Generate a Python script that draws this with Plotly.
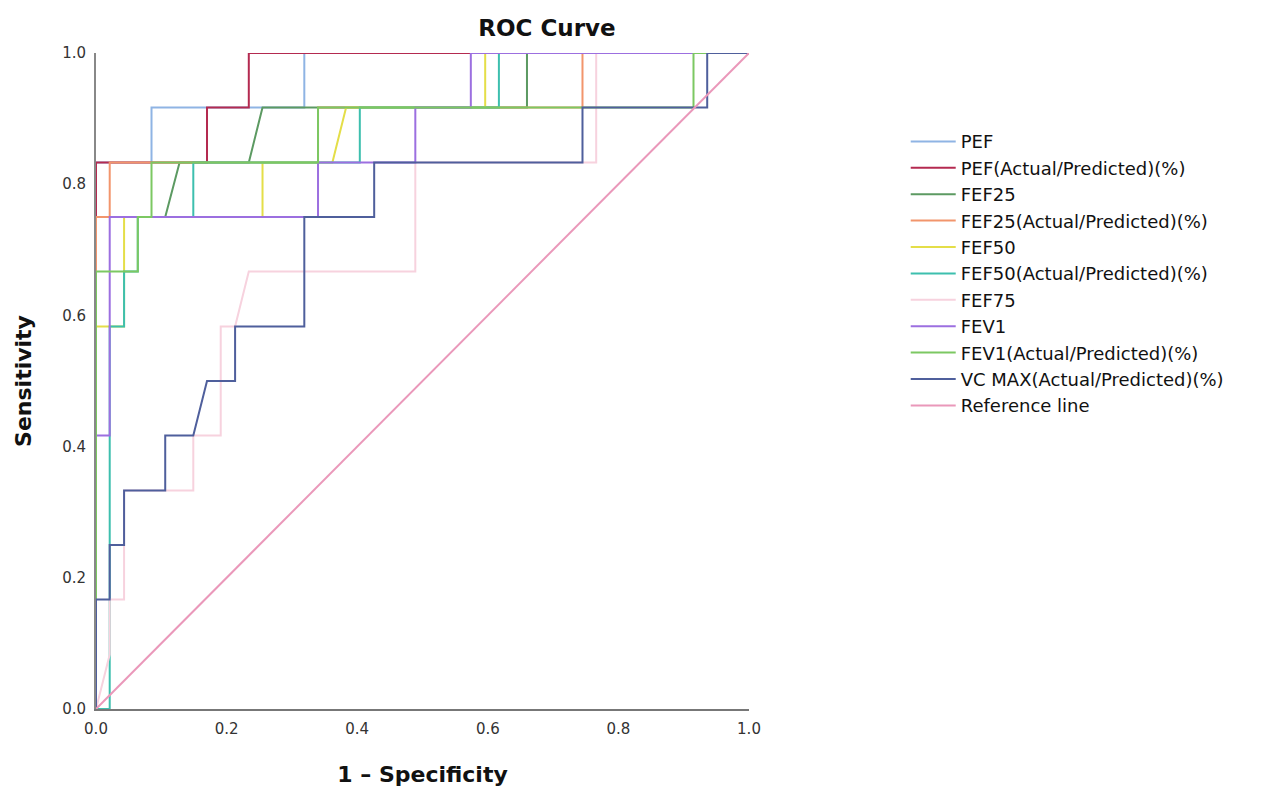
import plotly.graph_objects as go

# ROC step curves (1 - specificity, sensitivity)
pef_x = [0, 0, 0.085, 0.085, 0.319, 0.319, 1]
pef_y = [0, 0.833, 0.833, 0.917, 0.917, 1, 1]

pef_ap_x = [0, 0, 0.170, 0.170, 0.234, 0.234, 1]
pef_ap_y = [0, 0.833, 0.833, 0.917, 0.917, 1, 1]

fef25_x = [0, 0, 0.106, 0.128, 0.234, 0.255, 0.660, 0.660, 1]
fef25_y = [0, 0.75, 0.75, 0.833, 0.833, 0.917, 0.917, 1, 1]

fef25_ap_x = [0, 0, 0.021, 0.021, 0.340, 0.340, 0.745, 0.745, 1]
fef25_ap_y = [0, 0.75, 0.75, 0.833, 0.833, 0.917, 0.917, 1, 1]

fef50_x = [0, 0, 0.043, 0.043, 0.255, 0.255, 0.362, 0.383, 0.596, 0.596, 1]
fef50_y = [0, 0.583, 0.583, 0.75, 0.75, 0.833, 0.833, 0.917, 0.917, 1, 1]

fef50_ap_x = [0, 0.021, 0.021, 0.043, 0.043, 0.064, 0.064, 0.149, 0.149, 0.404, 0.404, 0.617, 0.617, 1]
fef50_ap_y = [0, 0, 0.583, 0.583, 0.667, 0.667, 0.75, 0.75, 0.833, 0.833, 0.917, 0.917, 1, 1]

fef75_x = [0, 0.021, 0.021, 0.043, 0.043, 0.149, 0.149, 0.191, 0.191, 0.213, 0.234, 0.489, 0.489, 0.766, 0.766, 1]
fef75_y = [0, 0.083, 0.167, 0.167, 0.333, 0.333, 0.417, 0.417, 0.583, 0.583, 0.667, 0.667, 0.833, 0.833, 1, 1]

fev1_x = [0, 0, 0.021, 0.021, 0.340, 0.340, 0.489, 0.489, 0.574, 0.574, 1]
fev1_y = [0, 0.417, 0.417, 0.75, 0.75, 0.833, 0.833, 0.917, 0.917, 1, 1]

fev1_ap_x = [0, 0, 0.064, 0.064, 0.085, 0.085, 0.340, 0.340, 0.915, 0.915, 1]
fev1_ap_y = [0, 0.667, 0.667, 0.75, 0.75, 0.833, 0.833, 0.917, 0.917, 1, 1]

vcmax_x = [0, 0, 0.021, 0.021, 0.043, 0.043, 0.106, 0.106, 0.149, 0.170, 0.213, 0.213,
           0.319, 0.319, 0.426, 0.426, 0.745, 0.745, 0.936, 0.936, 1]
vcmax_y = [0, 0.167, 0.167, 0.25, 0.25, 0.333, 0.333, 0.417, 0.417, 0.5, 0.5, 0.583,
           0.583, 0.75, 0.75, 0.833, 0.833, 0.917, 0.917, 1, 1]

ref_x = [0, 1]
ref_y = [0, 1]

tick_vals = [0, 0.2, 0.4, 0.6, 0.8, 1.0]
tick_text = ["0.0", "0.2", "0.4", "0.6", "0.8", "1.0"]

names = ["PEF", "PEF(Actual/Predicted)(%)", "FEF25", "FEF25(Actual/Predicted)(%)",
         "FEF50", "FEF50(Actual/Predicted)(%)", "FEF75", "FEV1",
         "FEV1(Actual/Predicted)(%)", "VC MAX(Actual/Predicted)(%)", "Reference line"]
xs = [pef_x, pef_ap_x, fef25_x, fef25_ap_x, fef50_x, fef50_ap_x, fef75_x, fev1_x,
      fev1_ap_x, vcmax_x, ref_x]
ys = [pef_y, pef_ap_y, fef25_y, fef25_ap_y, fef50_y, fef50_ap_y, fef75_y, fev1_y,
      fev1_ap_y, vcmax_y, ref_y]
colors = ["#8fb4e4", "#b42a50", "#5c9a62", "#f2956c", "#e4de48", "#3dbfae",
          "#f7d2de", "#9c6fe0", "#7cc862", "#4f5f9c", "#ea98ba"]

fig = go.Figure()
for n, x, y, c in zip(names, xs, ys, colors):
    fig.add_trace(go.Scatter(x=x, y=y, mode="lines", name=n,
                             line=dict(color=c, width=2)))

FONT = "DejaVu Sans"
fig.update_layout(
    width=1270, height=790,
    paper_bgcolor="white", plot_bgcolor="white",
    margin=dict(l=88, r=529, t=45, b=89),
    font=dict(family=FONT, color="#222"),
    title=dict(text="<b>ROC Curve</b>", x=539 / 1270, xanchor="center",
               y=1 - 20 / 790, yanchor="middle",
               font=dict(family=FONT, size=23, color="#111")),
    legend=dict(x=1.240, y=0.893, xanchor="left", yanchor="top",
                font=dict(family=FONT, size=18, color="#111"),
                bgcolor="rgba(0,0,0,0)", itemwidth=45),
    showlegend=True,
)
fig.update_xaxes(range=[0, 1], tickvals=tick_vals, ticktext=tick_text,
                 showgrid=False, zeroline=False, showline=True, linecolor="#777",
                 linewidth=2, ticks="outside", ticklen=5, tickcolor="rgba(0,0,0,0)",
                 tickfont=dict(size=15, color="#333"),
                 title=dict(text="<b>1 – Specificity</b>", font=dict(size=22, color="#111"),
                            standoff=30))
fig.update_yaxes(range=[0, 1], tickvals=tick_vals, ticktext=tick_text,
                 showgrid=False, zeroline=False, showline=True, linecolor="#888",
                 linewidth=2, ticks="outside", ticklen=5, tickcolor="rgba(0,0,0,0)",
                 tickfont=dict(size=15, color="#333"),
                 title=dict(text="<b>Sensitivity</b>", font=dict(size=22, color="#111"),
                            standoff=24))
fig.write_html("out.html")
